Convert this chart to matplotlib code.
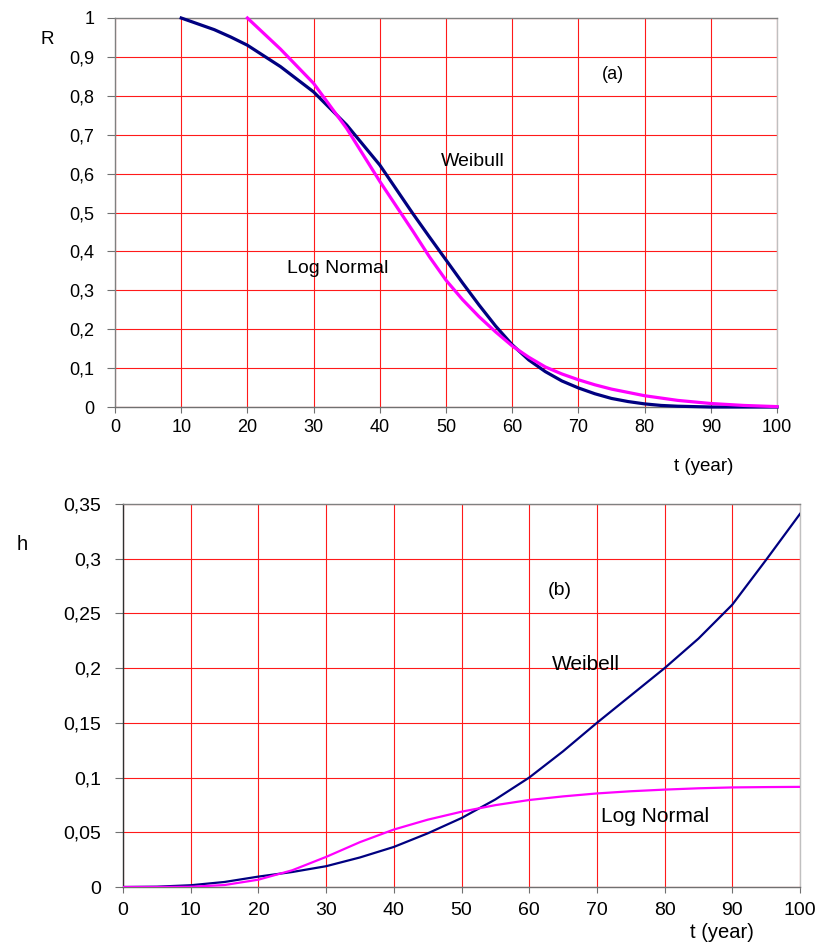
import matplotlib
matplotlib.use('Agg')
import matplotlib.pyplot as plt

plt.rcParams['font.family'] = ['Liberation Sans', 'DejaVu Sans']

# reliability R(t)
t_weib_r = [10, 12.5, 15, 17.5, 20, 25, 30, 35, 40, 45, 47.5, 50, 52.5, 55, 57.5, 60,
            62.5, 65, 67.5, 70, 72.5, 75, 77.5, 80, 82.5, 85, 87.5, 90, 95, 100]
r_weib = [1.0, 0.985, 0.97, 0.951, 0.93, 0.875, 0.81, 0.725, 0.622, 0.497, 0.437, 0.378,
          0.319, 0.262, 0.208, 0.16, 0.121, 0.091, 0.067, 0.049, 0.034, 0.022, 0.014,
          0.008, 0.004, 0.002, 0.001, 0.0, 0.0, 0.0]
t_logn_r = [20, 25, 30, 35, 40, 45, 47.5, 50, 52.5, 55, 57.5, 60, 62.5, 65, 67.5, 70,
            72.5, 75, 80, 85, 90, 95, 100]
r_logn = [1.0, 0.92, 0.832, 0.716, 0.58, 0.452, 0.386, 0.326, 0.276, 0.232, 0.193, 0.157,
          0.128, 0.103, 0.085, 0.07, 0.057, 0.046, 0.029, 0.017, 0.009, 0.004, 0.001]

# hazard rate h(t)
t_h = [0, 5, 10, 15, 20, 25, 30, 35, 40, 45, 50, 55, 60, 65, 70, 75, 80, 85, 90, 95, 100]
h_weib = [0.0, 0.0003, 0.0016, 0.0046, 0.0095, 0.0137, 0.019, 0.027, 0.0366, 0.049,
          0.063, 0.08, 0.1, 0.124, 0.15, 0.175, 0.2, 0.227, 0.258, 0.299, 0.341]
h_logn = [0.0, 0.0, 0.0002, 0.0018, 0.0067, 0.0153, 0.0275, 0.041, 0.0525, 0.0615,
          0.0688, 0.0748, 0.0795, 0.0828, 0.0855, 0.0875, 0.089, 0.0902, 0.091, 0.0913, 0.0915]

x_ticks = list(range(0, 101, 10))
r_ticks = [0, 0.1, 0.2, 0.3, 0.4, 0.5, 0.6, 0.7, 0.8, 0.9, 1.0]
r_labels = ['0', '0,1', '0,2', '0,3', '0,4', '0,5', '0,6', '0,7', '0,8', '0,9', '1']
h_ticks = [0, 0.05, 0.1, 0.15, 0.2, 0.25, 0.3, 0.35]
h_labels = ['0', '0,05', '0,1', '0,15', '0,2', '0,25', '0,3', '0,35']

NAVY = '#000080'
MAGENTA = '#ff00ff'
GRID = '#ff1a1a'

fig = plt.figure(figsize=(8.22, 9.44), dpi=100)
W, H = 822.0, 944.0


def px_axes(left, top, right, bottom):
    return fig.add_axes([left / W, 1 - bottom / H, (right - left) / W, (bottom - top) / H])


def style(ax, size, xpad, ypad, left_col):
    ax.grid(True, color=GRID, linewidth=0.8, zorder=0)
    ax.set_axisbelow(True)
    ax.spines['top'].set_color('#808080')
    ax.spines['right'].set_color('#c0c0c0')
    ax.spines['bottom'].set_color('#707070')
    ax.spines['left'].set_color(left_col)
    for s in ax.spines.values():
        s.set_linewidth(1.0)
    ax.tick_params(axis='x', direction='out', length=4, color='#707070', labelsize=size, pad=xpad)
    ax.tick_params(axis='y', direction='out', length=6, color='#707070', labelsize=size, pad=ypad)


# (a) reliability
ax1 = px_axes(115, 18, 777, 407)
ax1.plot(t_weib_r, r_weib, color=NAVY, linewidth=2.3, zorder=3, clip_on=False)
ax1.plot(t_logn_r, r_logn, color=MAGENTA, linewidth=2.3, zorder=3, clip_on=False)
ax1.set_xlim(0, 100)
ax1.set_ylim(0, 1)
ax1.set_xticks(x_ticks)
ax1.set_yticks(r_ticks)
ax1.set_yticklabels(r_labels)
style(ax1, 13, 5, 9, '#808080')
ax1.text(75.2, 0.856, '(a)', fontsize=13, ha='center', va='center')
ax1.text(54.1, 0.632, 'Weibull', fontsize=14, ha='center', va='center')
ax1.text(33.7, 0.357, 'Log Normal', fontsize=14, ha='center', va='center')
fig.text(704 / W, 1 - 467 / H, 't (year)', fontsize=13.5, ha='center', va='center')
fig.text(47 / W, 1 - 39 / H, 'R', fontsize=13.5, ha='center', va='center')

# (b) hazard rate
ax2 = px_axes(123, 504, 800, 887)
ax2.plot(t_h, h_weib, color=NAVY, linewidth=1.6, zorder=3)
ax2.plot(t_h, h_logn, color=MAGENTA, linewidth=1.6, zorder=3)
ax2.set_xlim(0, 100)
ax2.set_ylim(0, 0.35)
ax2.set_xticks(x_ticks)
ax2.set_yticks(h_ticks)
ax2.set_yticklabels(h_labels)
style(ax2, 14, 7, 10, '#303030')
ax2.text(64.5, 0.2706, '(b)', fontsize=14, ha='center', va='center')
ax2.text(68.4, 0.203, 'Weibell', fontsize=15, ha='center', va='center')
ax2.text(78.6, 0.0647, 'Log Normal', fontsize=15, ha='center', va='center')
fig.text(722 / W, 1 - 933 / H, 't (year)', fontsize=14.5, ha='center', va='center')
fig.text(22 / W, 1 - 545 / H, 'h', fontsize=14.5, ha='center', va='center')

fig.savefig('out.png', dpi=100)
